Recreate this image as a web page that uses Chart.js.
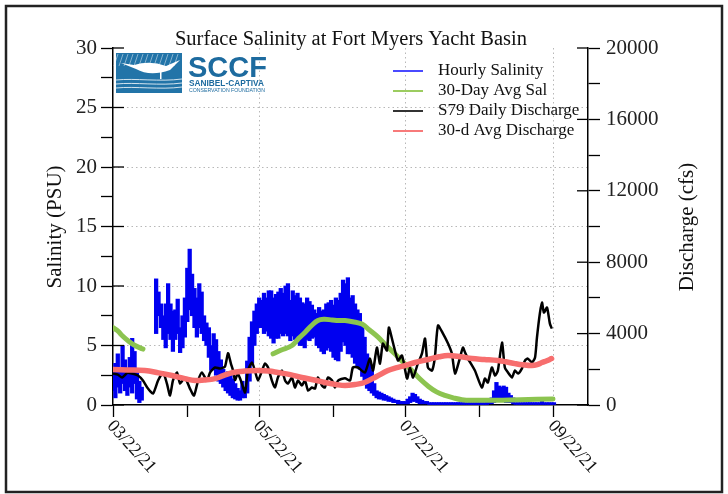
<!DOCTYPE html>
<html>
<head>
<meta charset="utf-8">
<script src="https://cdn.jsdelivr.net/npm/chart.js@4.4.0/dist/chart.umd.min.js"></script>
<style>
html, body { margin: 0; padding: 0; background: #fff; }
#wrap { position: relative; width: 728px; height: 494px; }
</style>
</head>
<body>
<div id="wrap"><canvas id="chart" width="728" height="494"></canvas></div>
<script>
// x axis: days since 03/22/21
const monthTicks = [0, 31, 61, 92, 122, 153, 184];
const monthLabels = ['03/22/21', '', '05/22/21', '', '07/22/21', '', '09/22/21'];

// hourly salinity, daily low / high of the hourly trace (index = day)
const salLow = [
  1.2,0.6,1.5,1.0,1.8,1.2,0.8,1.5,1.0,1.8,
  0.5,0.2,0.4,null,null,null,null,null,6.0,7.5,
  6.5,5.5,4.8,6.0,5.5,4.5,5.5,6.0,4.4,4.8,
  5.7,7.0,8.0,7.5,6.5,5.7,6.5,6.0,5.4,5.0,
  4.0,2.9,3.0,2.5,2.0,1.8,1.5,1.2,1.0,0.8,
  0.6,0.5,0.4,0.4,0.6,0.6,1.0,2.0,3.5,5.0,
  6.0,6.5,6.5,6.0,6.2,5.8,5.6,5.2,5.6,5.6,
  6.0,5.8,6.0,5.8,5.4,5.8,5.5,5.2,5.0,5.0,
  4.8,5.5,5.4,5.6,5.7,5.0,4.8,4.5,4.3,4.6,
  4.8,4.5,4.0,3.8,3.7,4.5,5.3,5.0,4.3,4.3,
  4.0,3.5,3.2,3.0,2.4,1.8,1.4,1.2,1.0,0.8,
  0.6,0.5,0.5,0.4,0.4,0.3,0.3,0.2,0.2,0.1,
  0.1,0.1,0.1,0.1,0.2,0.3,0.3,0.2,0.1,0.1,
  0.1,0.1,0,0,0,0,0,0,0,0,
  0,0,0,0,0,0,0,0,0,0,
  0,0,0,0,0,0,0,0.1,0.1,0.2,
  0.3,0.3,0.3,0.3,0.2,0.2,0.2,0.1,0.05,0.05,
  0.05,0.05,0.05,0.05,0.05,0.05,0.05,0.05,0.05,0.05,
  0.05,0.05,0.05,0.05,0.05
];
const salHigh = [
  2.8,3.5,4.3,3.0,5.0,3.8,2.8,4.0,5.6,4.5,
  3.0,2.0,1.5,null,null,null,null,null,10.6,9.5,
  8.5,7.5,8.5,10.2,8.5,7.9,8.0,8.9,6.5,7.5,
  9.0,11.5,13.1,11.0,9.8,9.0,10.2,9.5,7.5,6.9,
  6.5,5.0,6.0,5.5,4.5,3.8,3.0,2.5,2.8,2.6,
  2.2,1.8,1.4,1.2,2.0,1.5,3.7,5.7,7.0,7.9,
  8.5,9.0,8.8,9.4,9.0,9.6,9.6,9.0,9.3,9.5,
  9.8,9.4,10.0,10.2,8.8,9.6,9.2,9.4,9.0,8.6,
  8.5,9.0,8.7,8.4,8.0,7.7,8.2,7.9,8.0,8.5,
  8.6,8.8,8.4,9.0,8.8,9.4,10.5,10.2,10.7,9.0,
  9.2,8.5,8.0,7.7,6.6,5.7,4.3,3.6,2.9,1.8,
  1.2,1.1,1.0,0.9,0.8,0.7,0.6,0.5,0.4,0.4,
  0.3,0.3,0.3,0.5,0.7,1.0,0.9,0.7,0.5,0.4,
  0.3,0.3,0.2,0.2,0.2,0.2,0.2,0.2,0.2,0.2,
  0.2,0.2,0.2,0.2,0.2,0.2,0.2,0.2,0.2,0.2,
  0.2,0.2,0.2,0.2,0.2,0.2,0.3,0.4,0.6,1.2,
  1.9,1.6,1.5,1.6,1.5,1.0,0.8,0.6,0.2,0.2,
  0.2,0.2,0.2,0.2,0.2,0.2,0.2,0.2,0.2,0.6,
  0.2,0.2,0.2,0.2,0.2
];

// 30-day average salinity
const avgSalDays = [0, 2.1, 4, 6.3, 9.2, 12.5, 30, 66.8, 70, 74.7, 77.5, 80.1, 83, 85.5, 88, 91.4, 94, 96.8, 100, 103.9, 107, 110.6, 114, 117.6, 121, 124.7, 128, 131.4, 135, 138.5, 142, 145.6, 150, 160, 170, 183.6];
const avgSalValues = [6.5, 6.2, 5.8, 5.4, 5.0, 4.7, null, 4.3, 4.6, 5.0, 5.6, 6.1, 6.7, 7.1, 7.2, 7.15, 7.1, 7.1, 7.0, 6.8, 6.3, 5.7, 5.0, 4.3, 3.6, 2.9, 2.2, 1.6, 1.1, 0.8, 0.6, 0.45, 0.4, 0.4, 0.45, 0.5];

// S79 daily discharge (cfs)
const flowDays = [0, 2, 3.8, 6, 7.9, 10.4, 12.5, 14.6, 16.7, 18.8, 20.9, 22.5, 23.8, 25, 26.7, 28, 30, 32.1, 33.8, 35.5, 37.1, 39.2, 40.5, 42.6, 44.6, 46.7, 48, 49.2, 50.1, 50.9, 52.1, 53.8, 55.1, 56.3, 58, 59.2, 60.5, 62.2, 63.4, 64.7, 66.3, 67.6, 68.8, 70.5, 71.8, 73, 74.7, 75.9, 77.2, 78.8, 80.1, 81.4, 83, 84.3, 85.5, 87.2, 88.4, 89.7, 91.4, 92.6, 93.9, 96.8, 98.9, 100.1, 102.2, 105.1, 107.2, 108.5, 110.1, 111.4, 112.6, 114.3, 115.1, 116.8, 118.9, 120.6, 122.7, 123.9, 125.2, 127.2, 128.9, 130.2, 131.4, 133.1, 134.3, 135.6, 137.7, 139.8, 141.4, 142.7, 144.8, 146, 146.9, 148.1, 151, 153.9, 155.2, 156.4, 158.1, 159.4, 160.6, 162.3, 163.5, 164.8, 166.5, 167.7, 169, 170.6, 171.9, 173.1, 174.8, 176.1, 176.9, 178.1, 179, 179.8, 181.1, 182.3, 183.1];
const flowValues = [1760, 1700, 1540, 1800, 1760, 1650, 1370, 920, 640, 1370, 1820, 1200, 530, 1370, 1820, 1200, 1540, 920, 530, 1370, 1820, 1370, 1820, 2100, 2040, 2150, 2900, 2320, 1930, 1400, 1760, 1200, 700, 1930, 2380, 1930, 1370, 1930, 2320, 2100, 1370, 980, 1540, 1930, 1370, 1200, 1540, 980, 1370, 1090, 1370, 810, 980, 920, 1540, 1090, 980, 1540, 1370, 980, 1370, 1500, 1370, 2100, 2100, 1820, 2600, 1930, 3220, 2320, 3440, 3050, 4340, 3500, 2490, 2770, 1480, 2100, 1540, 2320, 2880, 3720, 2100, 1930, 2660, 4450, 4000, 3440, 2880, 1760, 2660, 3220, 2940, 2600, 1930, 980, 1480, 1260, 2100, 1650, 1930, 3500, 2100, 1820, 1540, 1930, 1760, 2040, 2490, 2600, 2380, 2660, 3780, 5120, 5740, 5180, 5460, 4560, 4280];

// 30-day average discharge (cfs)
const avgFlowDays = [0, 6, 13.3, 19, 24.6, 30, 34.2, 38, 42.6, 46, 50.1, 55, 60.5, 65, 68.8, 74, 78.8, 84, 88.4, 93, 96.8, 101, 105, 110, 114.7, 118, 121.8, 126, 131.4, 136, 139.8, 145, 149.8, 155, 160.6, 164, 167.7, 171, 174.8, 177, 179, 181, 183];
const avgFlowValues = [1990, 1960, 1930, 1800, 1650, 1480, 1370, 1400, 1480, 1650, 1820, 1900, 1930, 1900, 1820, 1700, 1540, 1400, 1260, 1150, 1090, 1150, 1260, 1600, 1930, 2080, 2210, 2380, 2550, 2700, 2770, 2700, 2600, 2550, 2490, 2420, 2320, 2250, 2210, 2260, 2380, 2480, 2600];

const legendNames = ['Hourly Salinity', '30-Day Avg Sal', 'S79 Daily Discharge', '30-d Avg Discharge'];
const colBlue = '#0000f0', colGreen = '#8cc450', colBlack = '#000000', colRed = '#f76e6e';
const legendColors = ['#4a4aff', '#9ccc60', '#333333', '#f77a7a'];

const serif = '"Liberation Serif", "Times New Roman", serif';
const sans = '"Liberation Sans", Arial, sans-serif';
const gridCol = 'rgba(0,0,0,0.28)';

function drawLogo(c) {
    // blue picture box
    c.fillStyle = '#2274a8';
    c.fillRect(116, 53, 66, 40);
    c.strokeStyle = 'rgba(255,255,255,0.45)';
    c.lineWidth = 1;
    for (let i = 0; i < 13; i++) {
        c.beginPath();
        c.moveTo(118 + i * 5, 54);
        c.lineTo(114 + i * 5, 66);
        c.stroke();
    }
    // bird
    c.fillStyle = '#ffffff';
    c.beginPath();
    c.moveTo(121, 63);
    c.lineTo(134, 65);
    c.quadraticCurveTo(150, 60, 166, 66);
    c.lineTo(180, 60);
    c.lineTo(170, 70);
    c.quadraticCurveTo(150, 77, 136, 69);
    c.closePath();
    c.fill();
    c.fillRect(160, 70, 1.5, 9);
    // water
    c.strokeStyle = 'rgba(255,255,255,0.8)';
    [80, 84, 88].forEach(y => {
        c.beginPath();
        c.moveTo(116, y);
        c.bezierCurveTo(135, y - 2, 160, y + 2, 182, y - 1);
        c.stroke();
    });
    // text
    c.fillStyle = '#1d6b9f';
    c.textAlign = 'left';
    c.textBaseline = 'alphabetic';
    c.font = 'bold 29px ' + sans;
    c.fillText('SCCF', 188, 77);
    c.font = 'bold 8.3px ' + sans;
    c.fillText('SANIBEL-CAPTIVA', 189, 86);
    c.font = '5.2px ' + sans;
    c.fillText('CONSERVATION FOUNDATION', 189, 92);
}

const decor = {
    id: 'decor',
    afterDraw(chart) {
        const c = chart.ctx;
        const xs = chart.scales.x, ys = chart.scales.y, ys2 = chart.scales.y2;
        const area = chart.chartArea;
        c.save();
        // outer frame
        c.strokeStyle = '#222';
        c.lineWidth = 2.5;
        c.strokeRect(6, 6, 716, 486);

        // major ticks reach a little into the plot
        c.strokeStyle = '#000';
        c.lineWidth = 1.3;
        ys.ticks.forEach(t => {
            if (t.value % 5 !== 0) return;
            const py = ys.getPixelForValue(t.value);
            c.beginPath(); c.moveTo(area.left, py); c.lineTo(area.left + 11, py); c.stroke();
        });
        ys2.ticks.forEach(t => {
            if (t.value % 4000 !== 0) return;
            const py = ys2.getPixelForValue(t.value);
            c.beginPath(); c.moveTo(area.right - 11, py); c.lineTo(area.right, py); c.stroke();
        });

        c.fillStyle = '#111';
        c.font = '20.5px ' + serif;
        c.textAlign = 'center';
        c.textBaseline = 'alphabetic';
        c.fillText('Surface Salinity at Fort Myers Yacht Basin', 351, 45);

        // axis titles
        c.font = '21px ' + serif;
        c.textBaseline = 'middle';
        c.save(); c.translate(55, 227); c.rotate(-Math.PI / 2);
        c.fillText('Salinity (PSU)', 0, 0); c.restore();
        c.save(); c.translate(687, 227); c.rotate(-Math.PI / 2);
        c.fillText('Discharge (cfs)', 0, 0); c.restore();

        // rotated date labels
        c.font = '18px ' + serif;
        c.textAlign = 'left';
        monthTicks.forEach((v, i) => {
            if (!monthLabels[i]) return;
            const px = xs.getPixelForValue(v);
            c.save();
            c.translate(px - 3, 423);
            c.rotate(48 * Math.PI / 180);
            c.fillText(monthLabels[i], 0, 0);
            c.restore();
        });

        // legend
        c.font = '17px ' + serif;
        legendNames.forEach((name, i) => {
            const y = 71 + i * 20;
            c.strokeStyle = legendColors[i];
            c.lineWidth = 2;
            c.beginPath(); c.moveTo(393, y); c.lineTo(423, y); c.stroke();
            c.fillStyle = '#111';
            c.fillText(name, 438, y);
        });

        drawLogo(c);
        c.restore();
    }
};

const hourly = [];
salLow.forEach((lo, d) => {
    if (lo !== null) hourly.push({ x: d, y: [lo, salHigh[d]] });
});

const ctx = document.getElementById('chart').getContext('2d');
const myChart = new Chart(ctx, {
    type: 'line',
    data: {
        datasets: [
            {
                type: 'bar',
                label: legendNames[0],
                data: hourly,
                backgroundColor: colBlue,
                borderWidth: 0,
                barThickness: 3.6,
                yAxisID: 'y',
                order: 3
            },
            {
                label: legendNames[1],
                data: avgSalDays.map((d, i) => ({ x: d, y: avgSalValues[i] })),
                borderColor: colGreen,
                borderWidth: 5,
                pointRadius: 0,
                tension: 0.4,
                borderCapStyle: 'round',
                yAxisID: 'y',
                order: 2
            },
            {
                label: legendNames[2],
                data: flowDays.map((d, i) => ({ x: d, y: flowValues[i] })),
                borderColor: colBlack,
                borderWidth: 2.5,
                pointRadius: 0,
                tension: 0.2,
                yAxisID: 'y2',
                order: 1
            },
            {
                label: legendNames[3],
                data: avgFlowDays.map((d, i) => ({ x: d, y: avgFlowValues[i] })),
                borderColor: colRed,
                borderWidth: 5.5,
                pointRadius: 0,
                tension: 0.4,
                borderCapStyle: 'round',
                yAxisID: 'y2',
                order: 0
            }
        ]
    },
    options: {
        responsive: false,
        animation: false,
        devicePixelRatio: 1,
        layout: { padding: { left: 0, right: 0, top: 48, bottom: 0 } },
        plugins: {
            legend: { display: false },
            tooltip: { enabled: false }
        },
        scales: {
            x: {
                type: 'linear',
                min: 0,
                max: 198.2,
                offset: false,
                afterBuildTicks: s => { s.ticks = monthTicks.map(v => ({ value: v })); },
                afterFit: s => { s.height = 89; },
                ticks: { display: false },
                grid: {
                    color: c => (c.tick && c.index % 2 === 0 && c.tick.value > 0) ? gridCol : 'rgba(0,0,0,0)',
                    tickColor: '#000',
                    tickLength: 12,
                    tickWidth: 1.3,
                    offset: false
                },
                border: { color: '#000', width: 1.5, dash: [1.5, 3] }
            },
            y: {
                position: 'left',
                min: 0,
                max: 30,
                afterFit: s => { s.width = 113; },
                ticks: {
                    stepSize: 2.5,
                    autoSkip: false,
                    padding: 4,
                    color: '#222',
                    font: { family: serif, size: 21 },
                    callback: v => v % 5 === 0 ? v : ''
                },
                grid: {
                    color: c => (c.tick && c.tick.value % 5 === 0 && c.tick.value > 0 && c.tick.value < 30) ? gridCol : 'rgba(0,0,0,0)',
                    tickColor: '#000',
                    tickLength: 12,
                    tickWidth: 1.3
                },
                border: { color: '#000', width: 1.5, dash: [1.5, 3] }
            },
            y2: {
                position: 'right',
                min: 0,
                max: 20000,
                afterFit: s => { s.width = 140; },
                ticks: {
                    stepSize: 2000,
                    autoSkip: false,
                    padding: 6,
                    color: '#222',
                    font: { family: serif, size: 21 },
                    callback: v => v % 4000 === 0 ? v : ''
                },
                grid: {
                    drawOnChartArea: false,
                    tickColor: '#000',
                    tickLength: 12,
                    tickWidth: 1.3
                },
                border: { color: '#000', width: 1.5 }
            }
        }
    },
    plugins: [decor]
});
</script>
</body>
</html>
